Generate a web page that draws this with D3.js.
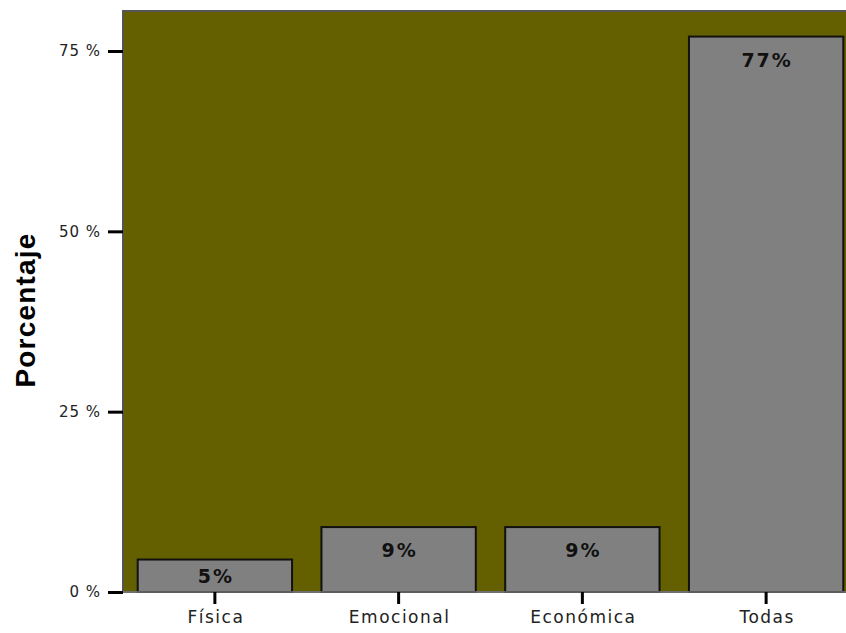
<!DOCTYPE html>
<html><head><meta charset="utf-8">
<script src="https://cdn.jsdelivr.net/npm/d3@7"></script>
<style>body{margin:0;background:#fff}svg{display:block}</style>
</head><body><svg id="c" width="846" height="633"></svg>
<script>
const categories = ["Física","Emocional","Económica","Todas"];
const values = [4.5, 9.0, 9.0, 77.0];
const valueLabels = ["5%","9%","9%","77%"];
const yTicks = [0,25,50,75];
const yTickLabels = ["0 %","25 %","50 %","75 %"];
const yTitle = "Porcentaje";

const svg = d3.select("#c");
const mLeft = 123, mTop = 11, mBottom = 592, mRight = 858;
const y = d3.scaleLinear().domain([0, 75]).range([mBottom, 51]);
const x = d3.scaleBand().domain(categories).range([mLeft, mRight]).paddingInner(0.16).paddingOuter(0.08);

svg.append("rect").attr("x", mLeft).attr("y", mTop).attr("width", 846 - mLeft + 5).attr("height", mBottom - mTop)
  .attr("fill", "#646000").attr("stroke", "#555").attr("stroke-width", 2);

svg.selectAll("rect.bar").data(values).join("rect").attr("class","bar")
  .attr("x", (d,i) => x(categories[i])).attr("width", x.bandwidth())
  .attr("y", d => y(d)).attr("height", d => mBottom - y(d))
  .attr("fill", "#808080").attr("stroke", "#111").attr("stroke-width", 2);

svg.selectAll("text.vl").data(values).join("text").attr("class","vl")
  .attr("x", (d,i) => x(categories[i]) + x.bandwidth()/2 + 1)
  .attr("y", d => Math.min(y(d) + 23.5, (y(d) + mBottom)/2 + 1))
  .attr("dy", "0.35em").attr("text-anchor","middle")
  .style("font-size", "19px").style("font-weight","bold").attr("fill","#111")
  .style("font-family","DejaVu Sans, sans-serif").style("letter-spacing", "2px")
  .text((d,i) => valueLabels[i]);

svg.append("line").attr("x1", mLeft).attr("x2", 846).attr("y1", mBottom).attr("y2", mBottom).attr("stroke","#777").attr("stroke-width",1.5);

const ya = svg.append("g").attr("transform", `translate(${mLeft},0)`)
  .call(d3.axisLeft(y).tickValues(yTicks).tickSize(15).tickPadding(7).tickFormat((d,i) => yTickLabels[i]));
ya.select(".domain").remove();
ya.selectAll(".tick line").attr("stroke","#000").attr("stroke-width",3);
ya.selectAll(".tick text").style("font-size","15px").attr("fill","#222").style("font-family","DejaVu Sans, sans-serif").style("letter-spacing", "1px");

const xa = svg.append("g").attr("transform", `translate(0,${mBottom})`)
  .call(d3.axisBottom(x).tickSize(12).tickPadding(7));
xa.select(".domain").remove();
xa.selectAll(".tick line").attr("stroke","#000").attr("stroke-width",3);
xa.selectAll(".tick text").style("font-size","17px").attr("fill","#222").style("font-family","DejaVu Sans, sans-serif").style("letter-spacing", "1.5px").attr("dx", 1);

svg.append("text").attr("transform","translate(35,310) rotate(-90)").attr("text-anchor","middle")
  .style("font-size","28px").style("font-weight","bold").attr("fill","#000")
  .style("font-family","Liberation Sans, Arial, sans-serif").style("letter-spacing","1.2px").text(yTitle);
</script></body></html>
